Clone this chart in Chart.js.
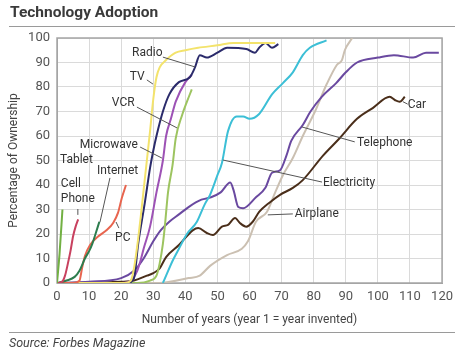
<!DOCTYPE html>
<html>
<head>
<meta charset="utf-8">
<script src="https://cdn.jsdelivr.net/npm/chart.js@4"></script>
<style>
  body { margin: 0; background: #fff; font-family: Roboto, sans-serif; }
  #wrap { position: relative; width: 459px; height: 354px; overflow: hidden; }
  #chart { position: absolute; left: 0; top: 0; }
  .title { position: absolute; left: 10px; top: 3px; font-size: 15.5px; font-weight: bold; color: #3a3a3a; }
  .rule { position: absolute; left: 9px; width: 446px; height: 0; border-top: 1.5px solid #9a9a9a; }
  .source { position: absolute; left: 9px; top: 335px; font-size: 12.5px; font-style: italic; color: #444; }
</style>
</head>
<body>
<div id="wrap">
  <canvas id="chart" width="459" height="354"></canvas>
  <div class="title">Technology Adoption</div>
  <div class="rule" style="top:26px"></div>
  <div class="rule" style="top:332px"></div>
  <div class="source">Source: Forbes Magazine</div>
</div>
<script>
// years since invention vs. percentage of ownership
const tablet = [[0,0],[0.8,12],[1.7,30]];
const cellPhone = [[0,0],[1.6,0.5],[2.5,3],[3.4,8],[4.2,13],[5,19],[5.8,23],[6.6,26]];
const internet = [[0,0],[3,1],[5.5,2.5],[7,5],[8.7,10],[10,13],[11,16],[12,20],[13.2,25]];
const pc = [[0,0],[5,0],[7,1],[7.8,6],[8.7,11],[10.3,15.5],[12.8,19],[15.5,21.6],[17.5,24.5],[19,28.6],[20.2,34.7],[21.5,40]];
const tv = [[0,0],[21,0],[23,1],[24,6],[25,15],[26,26],[27,38],[28,50],[29,62],[30,75],[31,84],[32,88],[34,91],[37,94],[40,95],[44,96],[50,97],[55,98],[68,98]];
const radio = [[0,0],[22,0],[24,2],[25.3,16],[27.4,33],[29,47],[30,54],[31,60],[33,70],[35,77],[38,82],[41.4,84],[43,88],[44.5,93],[46.7,92],[50,94],[53,96],[59,95.5],[61.7,94],[63,96],[65,98],[67,96],[69,97.5]];
const microwave = [[0,0],[20,0],[23,1],[25,5],[26,9],[27,14],[29,23],[31,37],[33,50],[34,60],[35.5,67],[37,74],[40,82],[42,85]];
const vcr = [[0,0],[25,0],[29,1],[31,3],[32,8],[33,16],[33.6,23],[34.6,37],[36,48],[37,59],[39,68.6],[40.5,74],[42,79]];
const electricity = [[33,0],[34,3],[36,9],[38,14],[40.5,20],[43.6,25],[46,32],[47.7,36],[50,44],[51.4,49],[53.3,62],[56,68],[58,68],[60,67],[63,69],[67,77],[70.4,81.6],[73.5,86],[76.6,93],[78.8,96],[84,99]];
const telephone = [[0,0],[10,0.5],[20,2],[24,5],[27,10],[30,17],[32,21],[35,25],[38,28],[41,31],[45,34],[48,35],[51,37],[54,41],[55,38],[56.5,31],[58,30.5],[62,35],[65,39],[67,45],[69.5,46],[71.5,52],[73,58],[76.6,64.5],[79,70],[82.5,76],[87,81.6],[90,86],[93.5,90],[100,92],[105,93],[111,92],[115,94],[119,94]];
const car = [[0,0],[20,0.5],[24,1],[28,3],[30,4],[32,6],[34,10.6],[38,15.5],[42.4,21.6],[44,22.4],[46.7,20.4],[48.6,19.6],[51.4,23],[53.3,23.7],[55.5,26.5],[57,24.5],[59,23],[61,25],[63,29],[66.4,33],[69.5,36],[73.5,38.8],[76.6,42],[82.9,52],[88,59],[93.5,67],[98.4,71.4],[103.7,76],[105.3,74.7],[106.8,74],[108.4,76]];
const airplane = [[0,0],[32,0],[41,2],[44.5,3],[47.7,7],[53,11.4],[57.6,14],[59.5,17],[62,25],[65.4,29],[68,37],[70.4,44],[73.5,51],[76.6,60],[80.4,70],[84,81],[87.2,89],[88.8,91],[89.7,95],[92,100]];

const seriesNames = ['Tablet','Cell Phone','Internet','PC','TV','Radio','Microwave','VCR','Electricity','Telephone','Car','Airplane'];
const seriesData = [tablet, cellPhone, internet, pc, tv, radio, microwave, vcr, electricity, telephone, car, airplane];
const seriesColors = ['#72b043','#c8415f','#2d7d4e','#e8654f','#f3e36c','#2b2b6b','#9d52b5','#9dc460','#3cbfd6','#6a49a0','#4a2e1a','#cbc0b2'];

const xTicks = [0,10,20,30,40,50,60,70,80,90,100,110,120];
const yTicks = [0,10,20,30,40,50,60,70,80,90,100];

// label text, where it sits and the leader line to its curve (data units)
const lineLabels = [
  {text: 'Radio', at: [23.4, 93.9], from: [33, 92.2], to: [43, 88.2]},
  {text: 'TV', at: [22.7, 84], from: [28, 82.9], to: [29.9, 81.2]},
  {text: 'VCR', at: [17.1, 73.5], from: [24.9, 71.8], to: [37.4, 63.3]},
  {text: 'Microwave', at: [25.2, 56.3], align: 'right', from: [25.9, 55.5], to: [32.7, 51]},
  {text: 'Tablet', at: [0.9, 50.2]},
  {text: 'Internet', at: [12.5, 45.7], from: [16.5, 42.9], to: [13.4, 24.9]},
  {text: 'Cell', at: [1.2, 40.4]},
  {text: 'Phone', at: [1.2, 34.3], from: [6.5, 30.2], to: [6.5, 27.8]},
  {text: 'PC', at: [18.1, 18.4], from: [19.3, 22.4], to: [18.4, 24.9]},
  {text: 'Car', at: [109.3, 72.7], from: [109.3, 73], to: [107.8, 74]},
  {text: 'Telephone', at: [93.5, 57.1], from: [92.8, 57.6], to: [76.3, 63.7]},
  {text: 'Electricity', at: [82.9, 40.8], from: [82.6, 41.2], to: [51.7, 50.2]},
  {text: 'Airplane', at: [74.1, 28.2], from: [73.5, 28.2], to: [65.7, 27.8]}
];

const labelPlugin = {
  id: 'lineLabels',
  afterDatasetsDraw(chart) {
    const {ctx, scales: {x, y}} = chart;
    ctx.save();
    ctx.lineWidth = 1;
    ctx.strokeStyle = '#555';
    ctx.fillStyle = '#333';
    ctx.font = '12px Roboto';
    ctx.textBaseline = 'middle';
    lineLabels.forEach(l => {
      if (l.from) {
        ctx.beginPath();
        ctx.moveTo(x.getPixelForValue(l.from[0]), y.getPixelForValue(l.from[1]));
        ctx.lineTo(x.getPixelForValue(l.to[0]), y.getPixelForValue(l.to[1]));
        ctx.stroke();
      }
      ctx.textAlign = l.align || 'left';
      ctx.fillText(l.text, x.getPixelForValue(l.at[0]), y.getPixelForValue(l.at[1]));
    });
    ctx.restore();
  }
};

// darker frame round the plot area
const framePlugin = {
  id: 'frame',
  beforeDatasetsDraw(chart) {
    const {ctx, chartArea: a} = chart;
    ctx.save();
    ctx.strokeStyle = '#a5a5a5';
    ctx.lineWidth = 1.5;
    ctx.strokeRect(a.left, a.top, a.right - a.left, a.bottom - a.top);
    ctx.restore();
  }
};

const gridColor = '#dadada';

new Chart(document.getElementById('chart'), {
  type: 'line',
  data: {
    datasets: seriesData.map((d, i) => ({
      label: seriesNames[i],
      data: d.map(p => ({x: p[0], y: p[1]})),
      borderColor: seriesColors[i],
      borderWidth: 2,
      pointRadius: 0,
      fill: false,
      cubicInterpolationMode: 'monotone'
    }))
  },
  options: {
    responsive: false,
    animation: false,
    layout: {padding: {left: 0, right: 16, top: 38, bottom: 25}},
    plugins: {legend: {display: false}, tooltip: {enabled: false}},
    scales: {
      x: {
        type: 'linear',
        min: 0, max: 120,
        afterBuildTicks: s => { s.ticks = xTicks.map(v => ({value: v})); },
        afterFit: s => { s.height = 46; },
        grid: {color: gridColor, drawTicks: false},
        border: {color: '#a5a5a5'},
        ticks: {padding: 6, color: '#555', font: {family: 'Roboto', size: 13}, maxRotation: 0},
        title: {display: true, text: 'Number of years (year 1 = year invented)', color: '#444',
          font: {family: 'Roboto', size: 12}, padding: {top: 0, bottom: 2}}
      },
      y: {
        min: 0, max: 100,
        afterBuildTicks: s => { s.ticks = yTicks.map(v => ({value: v})); },
        afterFit: s => { s.width = 57; },
        grid: {color: gridColor, drawTicks: false},
        border: {color: '#a5a5a5'},
        ticks: {padding: 7, color: '#555', font: {family: 'Roboto', size: 13}},
        title: {display: true, text: 'Percentage of Ownership', color: '#444',
          font: {family: 'Roboto', size: 12}, padding: {top: 7, bottom: 0}}
      }
    }
  },
  plugins: [framePlugin, labelPlugin]
});
</script>
</body>
</html>
